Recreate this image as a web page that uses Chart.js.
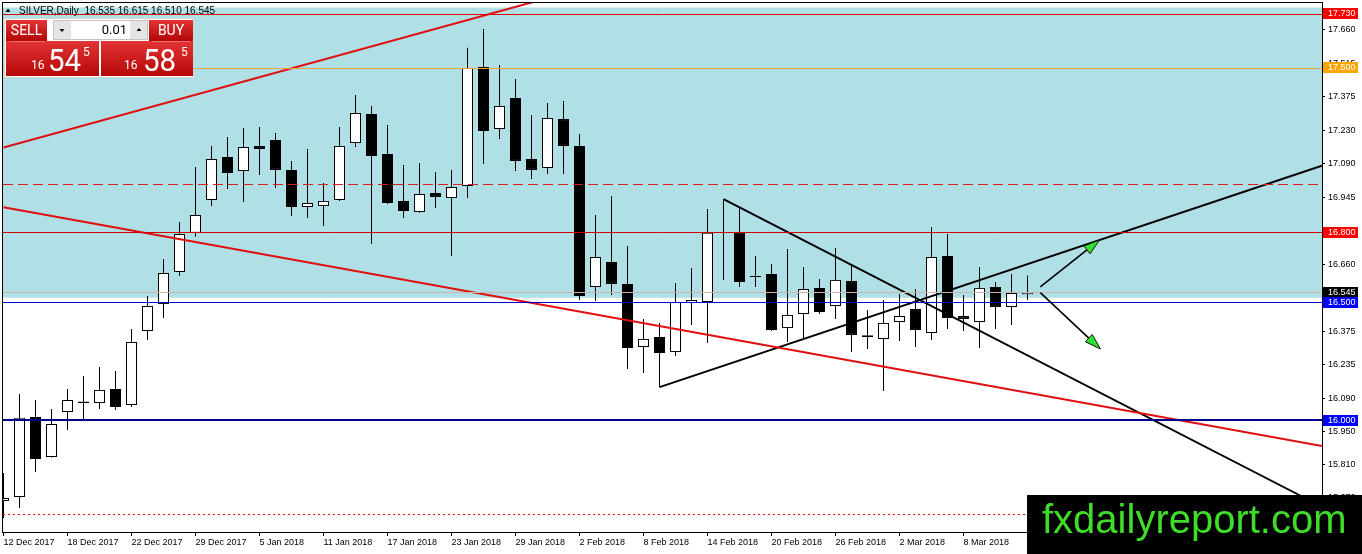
<!DOCTYPE html>
<html>
<head>
<meta charset="utf-8">
<title>SILVER,Daily</title>
<script src="https://cdn.jsdelivr.net/npm/chart.js@4.4.1/dist/chart.umd.min.js"></script>
<style>
  html, body { margin: 0; padding: 0; background: #fff; overflow: hidden; }
  #wrap { width: 1362px; height: 554px; }
</style>
</head>
<body>
<div id="wrap"><canvas id="chart" width="1362" height="554"></canvas></div>
<script>
// daily candles, 12 Dec 2017 .. 12 Mar 2018
const opens = [15.655, 15.672, 16.013, 15.843, 16.034, 16.079, 16.072, 16.132, 16.064, 16.379,
  16.493, 16.630, 16.796, 16.936, 17.119, 17.059, 17.166, 17.191, 17.064, 16.906,
  16.910, 16.936, 17.178, 17.302, 17.132, 16.932, 16.885, 16.966, 16.944, 16.995,
  17.502, 17.238, 17.370, 17.110, 17.072, 17.280, 17.166, 16.566, 16.672, 16.579,
  16.311, 16.353, 16.289, 16.498, 16.502, 16.940, 16.796, 16.613, 16.621, 16.391,
  16.451, 16.562, 16.485, 16.591, 16.360, 16.345, 16.417, 16.472, 16.370, 16.698,
  16.442, 16.417, 16.566, 16.481, 16.535];
const highs = [15.775, 16.111, 16.085, 16.047, 16.132, 16.187, 16.225, 16.208, 16.387, 16.527,
  16.685, 16.842, 17.076, 17.166, 17.204, 17.242, 17.246, 17.221, 17.102, 17.153,
  17.008, 17.246, 17.383, 17.336, 17.255, 17.085, 17.093, 17.055, 17.064, 17.583,
  17.663, 17.510, 17.451, 17.297, 17.349, 17.357, 17.217, 16.872, 16.953, 16.740,
  16.430, 16.413, 16.583, 16.647, 16.898, 16.940, 16.906, 16.698, 16.664, 16.727,
  16.651, 16.600, 16.732, 16.655, 16.468, 16.510, 16.536, 16.557, 16.821, 16.791,
  16.532, 16.651, 16.587, 16.621, 16.615];
const lows = [15.583, 15.626, 15.779, 15.840, 15.957, 16.004, 16.047, 16.043, 16.055, 16.340,
  16.434, 16.613, 16.779, 16.910, 16.983, 16.927, 17.042, 16.987, 16.868, 16.859,
  16.825, 16.932, 17.161, 16.749, 16.919, 16.859, 16.881, 16.902, 16.698, 16.944,
  17.089, 17.195, 17.059, 17.025, 17.046, 17.046, 16.510, 16.506, 16.532, 16.217,
  16.200, 16.140, 16.272, 16.404, 16.328, 16.596, 16.566, 16.566, 16.379, 16.332,
  16.345, 16.451, 16.430, 16.289, 16.302, 16.123, 16.336, 16.311, 16.340, 16.387,
  16.379, 16.306, 16.387, 16.404, 16.510];
const closes = [15.668, 16.009, 15.834, 15.983, 16.085, 16.071, 16.128, 16.055, 16.332, 16.485,
  16.625, 16.791, 16.872, 17.110, 17.051, 17.161, 17.153, 17.064, 16.906, 16.923,
  16.932, 17.166, 17.306, 17.123, 16.923, 16.889, 16.961, 16.949, 16.991, 17.497,
  17.229, 17.336, 17.102, 17.064, 17.285, 17.166, 16.527, 16.693, 16.579, 16.306,
  16.345, 16.285, 16.502, 16.510, 16.796, 16.940, 16.587, 16.608, 16.383, 16.447,
  16.557, 16.459, 16.596, 16.362, 16.353, 16.413, 16.442, 16.383, 16.693, 16.434,
  16.430, 16.562, 16.481, 16.540, 16.545];

const dateTickIdx = [0, 4, 8, 12, 16, 20, 24, 28, 32, 36, 40, 44, 48, 52, 56, 60];
const dateTickLabels = ['12 Dec 2017', '18 Dec 2017', '22 Dec 2017', '29 Dec 2017', '5 Jan 2018',
  '11 Jan 2018', '17 Jan 2018', '23 Jan 2018', '29 Jan 2018', '2 Feb 2018', '8 Feb 2018',
  '14 Feb 2018', '20 Feb 2018', '26 Feb 2018', '2 Mar 2018', '8 Mar 2018'];

const priceTicks = [17.660, 17.515, 17.375, 17.230, 17.090, 16.945, 16.800, 16.660, 16.515,
  16.375, 16.235, 16.090, 15.950, 15.810, 15.670];

// horizontal levels and the price tags on the axis
const levelPrices = [17.730, 17.500, 17.000, 16.800, 16.545, 16.500, 16.000, 15.600];
const tagPrices = [17.730, 17.500, 16.800, 16.545, 16.500, 16.000];

// shaded zone, drawn trend lines and arrows: [index1, price1, index2, price2]
const zone = [17.755, 16.520];
const redLines = [[0, 17.159, 40, 17.907], [0, 16.905, 82.4, 15.889]];
const blackLines = [[41, 16.140, 82.4, 17.082], [45, 16.940, 82.4, 15.631]];
const arrows = [[64.8, 16.566, 68.5, 16.766], [64.8, 16.542, 68.56, 16.302]];

const bidAsk = [16.545, 16.585];
const lotSize = '0.01';

// ---- styles ----
const levelStyles = [
  ['#e00000', 1, []], ['#eca23a', 1, []], ['#d42020', 1, [10, 5]], ['#d40000', 1, []],
  ['#c8b6b0', 1, []], ['#0000c8', 1, []], ['#00008b', 2, []], ['#e00000', 1, [2, 3]]
];
const tagColors = ['#ff0000', '#ffa500', '#ff0000', '#000000', '#0000ff', '#0000ff'];
const tickFont = { family: 'Liberation Sans', size: 9 };

const xMin = -0.03125, xMax = 82.40625;
const yMin = 15.5235, yMax = 17.7739;

const lineSet = (pts, color, width) => ({
  type: 'line', order: 0, data: pts,
  borderColor: color, borderWidth: width,
  pointRadius: 0, tension: 0, fill: false
});

const redSets = redLines.map(l => lineSet([{ x: l[0], y: l[1] }, { x: l[2], y: l[3] }], '#e01010', 2));
const blackSets = blackLines.map(l => lineSet([{ x: l[0], y: l[1] }, { x: l[2], y: l[3] }], '#000', 2));

const bodies = opens.map((o, i) => ({ x: i, y: [o, closes[i]] }));
const wicks = opens.map((o, i) => ({ x: i, y: [lows[i], highs[i]] }));

function drawArrow(ctx, x1, y1, x2, y2) {
  const ang = Math.atan2(y2 - y1, x2 - x1);
  const len = 16, hw = 5;
  const bx = x2 - len * Math.cos(ang), by = y2 - len * Math.sin(ang);
  ctx.strokeStyle = '#000';
  ctx.lineWidth = 1.6;
  ctx.beginPath(); ctx.moveTo(x1, y1); ctx.lineTo(bx, by); ctx.stroke();
  ctx.beginPath();
  ctx.moveTo(x2, y2);
  ctx.lineTo(bx + hw * Math.sin(ang), by - hw * Math.cos(ang));
  ctx.lineTo(bx - hw * Math.sin(ang), by + hw * Math.cos(ang));
  ctx.closePath();
  ctx.fillStyle = '#2fe02f';
  ctx.fill();
  ctx.lineWidth = 1;
  ctx.strokeStyle = '#111';
  ctx.stroke();
}

function priceParts(p) {
  const s = p.toFixed(3);
  return [s.slice(0, 2), s.slice(3, 5), s.slice(5)];
}

function drawWidget(ctx) {
  const grad = (y0, y1) => {
    const g = ctx.createLinearGradient(0, y0, 0, y1);
    g.addColorStop(0, '#e23434');
    g.addColorStop(1, '#b50606');
    return g;
  };
  ctx.fillStyle = '#fff';
  ctx.fillRect(4, 18, 190, 60);
  ctx.strokeStyle = '#d6d6d6';
  ctx.lineWidth = 1;
  ctx.strokeRect(4.5, 18.5, 189, 59);

  ctx.fillStyle = grad(20, 41);
  ctx.fillRect(6, 20, 41, 21);
  ctx.fillRect(149, 20, 44, 21);
  ctx.fillStyle = grad(41, 77);
  ctx.fillRect(6, 41, 93, 35);
  ctx.fillRect(101, 41, 92, 35);
  ctx.fillStyle = 'rgba(255,255,255,0.3)';
  ctx.fillRect(9, 41, 36, 1);
  ctx.fillRect(152, 41, 38, 1);

  // lot spinner
  ctx.fillStyle = '#e4e4e4';
  ctx.fillRect(53, 20, 18, 20);
  ctx.fillRect(130, 20, 18, 20);
  ctx.fillStyle = '#fff';
  ctx.fillRect(71, 20, 58, 20);
  ctx.strokeStyle = '#c4c4c4';
  ctx.strokeRect(53.5, 20.5, 94, 19);
  ctx.fillStyle = '#000';
  ctx.beginPath(); ctx.moveTo(59.5, 29); ctx.lineTo(64.5, 29); ctx.lineTo(62, 32); ctx.closePath(); ctx.fill();
  ctx.beginPath(); ctx.moveTo(136.5, 31); ctx.lineTo(141.5, 31); ctx.lineTo(139, 28); ctx.closePath(); ctx.fill();
  ctx.font = '13px Roboto';
  ctx.textBaseline = 'middle';
  ctx.textAlign = 'right';
  ctx.fillText(lotSize, 127, 30.5);

  ctx.fillStyle = '#fff';
  ctx.textAlign = 'center';
  ctx.font = '14px Roboto';
  ctx.fillText('SELL', 26.5, 31);
  ctx.fillText('BUY', 171, 31);

  ctx.textAlign = 'left';
  ctx.textBaseline = 'alphabetic';
  [[bidAsk[0], 31, 48, 83], [bidAsk[1], 124, 143, 181]].forEach(([p, xs, xb, xp]) => {
    const [a, b, c] = priceParts(p);
    ctx.font = '12px Roboto';
    ctx.fillText(a, xs, 69);
    ctx.fillText(c, xp, 56);
    ctx.save();
    ctx.translate(xb, 71);
    ctx.scale(0.92, 1);
    ctx.font = '32px Roboto';
    ctx.fillText(b, 0, 0);
    ctx.restore();
  });
}

const overlay = {
  id: 'overlay',
  beforeDatasetsDraw(chart) {
    const { ctx, chartArea: a, scales: { y } } = chart;
    const t = y.getPixelForValue(zone[0]), b = y.getPixelForValue(zone[1]);
    ctx.save();
    ctx.fillStyle = '#b0dfe5';
    ctx.fillRect(a.left, t, a.right - a.left, b - t);
    ctx.restore();
  },
  afterDatasetsDraw(chart) {
    const { ctx, chartArea: a, scales: { x, y } } = chart;
    ctx.save();
    // horizontal levels, snapped to a pixel row so thin coloured lines stay crisp
    levelPrices.forEach((p, k) => {
      const [color, w, dash] = levelStyles[k];
      const py = w % 2 ? Math.round(y.getPixelForValue(p) / 2) * 2 + 0.5 : Math.round(y.getPixelForValue(p));
      ctx.strokeStyle = color;
      ctx.lineWidth = w;
      ctx.setLineDash(dash);
      ctx.beginPath();
      ctx.moveTo(a.left, py);
      ctx.lineTo(a.right, py);
      ctx.stroke();
    });
    ctx.setLineDash([]);
    arrows.forEach(r => drawArrow(ctx, x.getPixelForValue(r[0]), y.getPixelForValue(r[1]),
      x.getPixelForValue(r[2]), y.getPixelForValue(r[3])));
    ctx.strokeStyle = '#000';
    ctx.lineWidth = 1;
    ctx.strokeRect(a.left - 0.5, a.top - 0.5, a.right - a.left + 1, a.bottom - a.top + 1);
    ctx.restore();
  },
  afterDraw(chart) {
    const { ctx, chartArea: a, scales: { y } } = chart;
    ctx.save();
    // price tags
    ctx.font = '9px "Liberation Sans"';
    ctx.textBaseline = 'middle';
    ctx.textAlign = 'left';
    tagPrices.forEach((p, k) => {
      const py = Math.round(y.getPixelForValue(p));
      ctx.fillStyle = tagColors[k];
      ctx.fillRect(a.right + 1, py - 5, 35, 11);
      ctx.fillStyle = '#fff';
      ctx.fillText(p.toFixed(3), a.right + 6, py + 0.5);
    });

    // title
    const n = closes.length - 1;
    ctx.fillStyle = '#000';
    ctx.beginPath(); ctx.moveTo(5.5, 12); ctx.lineTo(8, 8.5); ctx.lineTo(10.5, 12); ctx.closePath(); ctx.fill();
    ctx.font = '10px "Liberation Sans"';
    ctx.textBaseline = 'alphabetic';
    ctx.fillText('SILVER,Daily  ' + [opens[n], highs[n], lows[n], closes[n]].map(v => v.toFixed(3)).join(' '), 19, 14);

    drawWidget(ctx);

    // site badge
    ctx.fillStyle = '#000';
    ctx.fillRect(1027, 495, 335, 59);
    ctx.fillStyle = '#3fdc2a';
    ctx.font = '40px "Liberation Sans"';
    ctx.textAlign = 'left';
    ctx.textBaseline = 'alphabetic';
    ctx.fillText('fxdailyreport.com', 1042, 533);
    ctx.restore();
  }
};

const ctx = document.getElementById('chart').getContext('2d');
new Chart(ctx, {
  type: 'bar',
  data: {
    datasets: [
      ...redSets, ...blackSets,
      {
        type: 'bar', order: 1, data: bodies, grouped: false,
        maxBarThickness: 11, borderWidth: 1, borderColor: '#000', borderSkipped: false, inflateAmount: 0,
        backgroundColor: c => (closes[c.dataIndex] >= opens[c.dataIndex] ? '#fff' : '#000')
      },
      {
        type: 'bar', order: 2, data: wicks, grouped: false,
        maxBarThickness: 1, borderWidth: 0, inflateAmount: 0, backgroundColor: '#000'
      }
    ]
  },
  options: {
    responsive: false,
    animation: false,
    devicePixelRatio: 1,
    layout: { padding: { left: 3, top: 3, right: 0, bottom: 0 } },
    plugins: { legend: { display: false }, tooltip: { enabled: false } },
    events: [],
    scales: {
      x: {
        type: 'linear', min: xMin, max: xMax, offset: false,
        grid: { display: true, offset: false, drawOnChartArea: false, drawTicks: true, tickLength: 4, color: '#000', lineWidth: 1 },
        border: { display: false },
        ticks: {
          autoSkip: false, maxRotation: 0, minRotation: 0, align: 'start', padding: 1,
          color: '#000', font: tickFont,
          callback: (v, i) => dateTickLabels[i]
        },
        afterBuildTicks: s => { s.ticks = dateTickIdx.map(v => ({ value: v })); },
        afterFit: s => { s.height = 22; s.paddingLeft = 0; s.paddingRight = 0; }
      },
      y: {
        type: 'linear', position: 'right', min: yMin, max: yMax,
        grid: { display: true, drawOnChartArea: false, drawTicks: true, tickLength: 3, color: '#000', lineWidth: 1 },
        border: { display: false },
        ticks: {
          autoSkip: false, padding: 3, color: '#000', font: tickFont,
          callback: v => Number(v).toFixed(3)
        },
        afterBuildTicks: s => { s.ticks = priceTicks.map(v => ({ value: v })); },
        afterFit: s => { s.width = 40; s.paddingTop = 0; s.paddingBottom = 0; }
      }
    }
  },
  plugins: [overlay]
});
</script>
</body>
</html>
